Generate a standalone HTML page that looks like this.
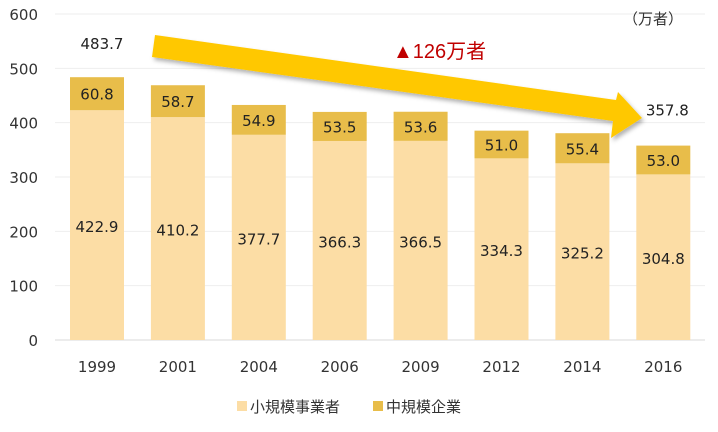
<!DOCTYPE html>
<html><head><meta charset="utf-8"><style>
body{margin:0;background:#fff;}
svg text{font-family:"DejaVu Sans","Liberation Sans","Noto Sans CJK JP",sans-serif;}
</style></head><body>
<svg id="c" width="718" height="427" xmlns="http://www.w3.org/2000/svg">
<defs><filter id="sh" x="-10%" y="-50%" width="120%" height="200%"><feDropShadow dx="2" dy="3" stdDeviation="2" flood-color="#000" flood-opacity="0.3"/></filter></defs>
<g id="grid"></g><g id="bars"></g><g id="labels"></g>
<polygon filter="url(#sh)" fill="#FFC800" points="155,35 616,100 618,92 642,118 611,138 613,121 152,57"/>
<text x="393" y="58" font-size="20" fill="#C00000" style="font-family:'Liberation Sans','Noto Sans CJK JP',sans-serif">▲126万者</text>
<text x="623" y="24" font-size="15" fill="#333" style="font-family:'Liberation Sans','Noto Sans CJK JP',sans-serif">（万者）</text>
<g>
<rect x="237" y="401" width="10" height="10" fill="#FCDDA5"/>
<text x="250" y="412" font-size="15" fill="#333" style="font-family:'Liberation Sans','Noto Sans CJK JP',sans-serif">小規模事業者</text>
<rect x="373" y="401" width="10" height="10" fill="#E8BD4A"/>
<text x="386" y="412" font-size="15" fill="#333" style="font-family:'Liberation Sans','Noto Sans CJK JP',sans-serif">中規模企業</text>
</g>
</svg>
<script>
const years=["1999","2001","2004","2006","2009","2012","2014","2016"];
const small=[422.9,410.2,377.7,366.3,366.5,334.3,325.2,304.8];
const medium=[60.8,58.7,54.9,53.5,53.6,51.0,55.4,53.0];
const totals=["483.7",null,null,null,null,null,null,"357.8"];
const yTicks=[0,100,200,300,400,500,600];
const ns="http://www.w3.org/2000/svg";
const y=v=>340-v*(326/600);
const x=i=>97+i*80.9;
const bw=54;
function mk(t,a,p){const e=document.createElementNS(ns,t);for(const k in a)e.setAttribute(k,a[k]);p.appendChild(e);return e;}
const grid=document.getElementById('grid'),bars=document.getElementById('bars'),lab=document.getElementById('labels');
yTicks.forEach(t=>{
 const l=mk('line',{x1:55,x2:705,y1:y(t),y2:y(t),stroke:t===0?'#d9d9d9':'#eeeeee','stroke-width':1},grid);
 
 
 const tx=mk('text',{x:38,y:y(t)+6,'font-size':15,fill:'#333','text-anchor':'end'},grid);tx.textContent=t;
 
 
});
years.forEach((yr,i)=>{
 const cx=x(i);
 const r1=mk('rect',{x:cx-bw/2,y:y(small[i]),width:bw,height:y(0)-y(small[i]),fill:'#FCDDA5'},bars);
 
 
 const top=small[i]+medium[i];
 const r2=mk('rect',{x:cx-bw/2,y:y(top),width:bw,height:y(small[i])-y(top),fill:'#E8BD4A'},bars);
 
 
 const t1=mk('text',{x:cx,y:(y(small[i])+y(0))/2+7,'font-size':15,fill:'#222','text-anchor':'middle'},lab);t1.textContent=small[i].toFixed(1);
 
 
 const t2=mk('text',{x:cx,y:(y(small[i])+y(top))/2+6,'font-size':15,fill:'#222','text-anchor':'middle'},lab);t2.textContent=medium[i].toFixed(1);
 
 
 if(totals[i]){const t3=mk('text',{x:i===0?cx+5:cx+4,y:y(top)-(i===0?28:30),'font-size':15,fill:'#222','text-anchor':'middle'},lab);t3.textContent=totals[i];
 
 }
 const xl=mk('text',{x:cx,y:372,'font-size':15,fill:'#333','text-anchor':'middle'},lab);xl.textContent=yr;
 
 
});
</script>
</body></html>
